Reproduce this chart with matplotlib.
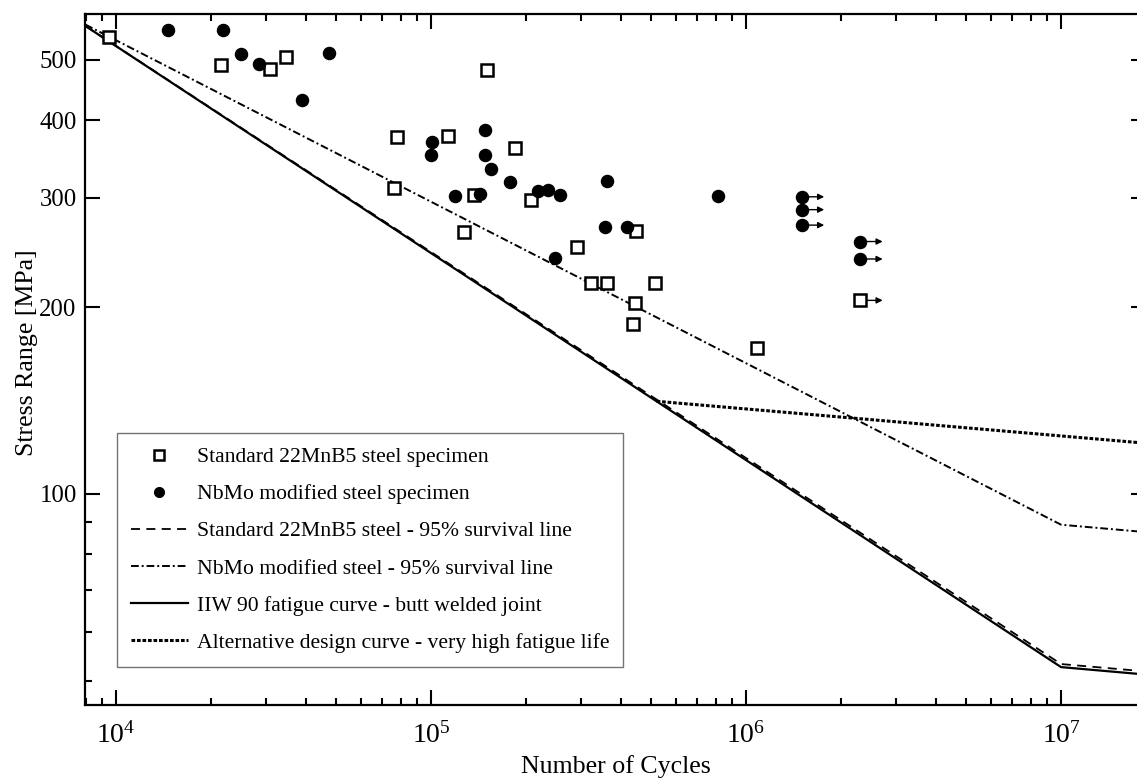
from matplotlib import pyplot as plt
from matplotlib.ticker import LogLocator, FixedLocator, NullFormatter, FixedFormatter
import numpy as np

plt.rcParams["font.family"] = ["Liberation Serif", "DejaVu Serif"]
plt.rcParams["mathtext.fontset"] = "custom"
plt.rcParams["mathtext.rm"] = "Liberation Serif"
plt.rcParams["mathtext.it"] = "Liberation Serif:italic"

# Test results - standard 22MnB5 steel (open squares)
std_cycles = [9500, 21500, 30800, 34600, 77800, 113000, 150000, 184000, 76100, 137000,
              208000, 127500, 291000, 446000, 322000, 362000, 512000, 443000, 437000, 1080000]
std_stress = [545, 491, 483, 505, 376, 377, 482, 361, 311, 303,
              298, 264, 250, 265, 219, 219, 219, 203, 188, 172]

# Test results - NbMo modified steel (filled circles)
nbmo_cycles = [14650, 21900, 24900, 28500, 47400, 38900, 100500, 100000, 148700, 148400,
               155400, 178000, 119400, 143100, 219000, 235700, 256700, 362000, 356000, 420000,
               247600, 815000]
nbmo_stress = [558, 558, 511, 493, 514, 431, 369, 352, 385, 352,
               334, 318, 302, 304, 308, 309, 303, 319, 269, 269,
               240, 302]

# Run-outs (no failure)
nbmo_runout_cycles = [1500000, 1500000, 1500000, 2300000, 2300000]
nbmo_runout_stress = [301, 287, 271, 255, 239]
std_runout_cycles = [2300000]
std_runout_stress = [205]

# Design / survival curves (vertices)
curve_cycles = [8000, 1e7, 2e7]
std95_stress = [567, 53.2, 51.6]
nbmo95_stress = [570, 89.2, 86.5]
iiw_stress = [567, 52.6, 51.0]
alt_cycles = [520000, 2e7]
alt_stress = [141, 120.3]

fig = plt.figure(figsize=(11.37, 7.78), dpi=100)
ax = fig.add_axes([0.0748, 0.0938, 0.9331, 0.8888])

ax.plot(curve_cycles, std95_stress, color="k", lw=1.3, dashes=(5, 3.5),
        label="Standard 22MnB5 steel - 95% survival line", zorder=2)
ax.plot(curve_cycles, nbmo95_stress, color="k", lw=1.4, dashes=(4, 1.5, 1, 1.5),
        label="NbMo modified steel - 95% survival line", zorder=2)
ax.plot(curve_cycles, iiw_stress, color="k", lw=1.6,
        label="IIW 90 fatigue curve - butt welded joint", zorder=2)
ax.plot(alt_cycles, alt_stress, color="k", lw=2.2, dashes=(1.2, 0.6),
        label="Alternative design curve - very high fatigue life", zorder=2)

# run-out arrows
for n, s in zip(nbmo_runout_cycles + std_runout_cycles, nbmo_runout_stress + std_runout_stress):
    ax.annotate("", xy=(n * 1.18, s), xytext=(n, s),
                arrowprops=dict(arrowstyle="-|>", color="k", lw=1.0, mutation_scale=9,
                                shrinkA=0, shrinkB=0), zorder=3)

ax.plot(std_cycles + std_runout_cycles, std_stress + std_runout_stress, ls="none", marker="s",
        ms=8.5, mfc="white", mec="k", mew=1.8, zorder=5)
ax.plot(nbmo_cycles + nbmo_runout_cycles, nbmo_stress + nbmo_runout_stress, ls="none", marker="o",
        ms=8.7, mfc="k", mec="k", zorder=5)

ax.set_xscale("log")
ax.set_yscale("log")
ax.set_xlim(7970, 1.86e7)
ax.set_ylim(45.7, 594)

ax.xaxis.set_major_locator(LogLocator(base=10, numticks=10))
ax.xaxis.set_minor_locator(LogLocator(base=10, subs=np.arange(2, 10), numticks=20))
ax.xaxis.set_minor_formatter(NullFormatter())

ax.yaxis.set_major_locator(FixedLocator([100, 200, 300, 400, 500]))
ax.yaxis.set_major_formatter(FixedFormatter(["100", "200", "300", "400", "500"]))
ax.yaxis.set_minor_locator(FixedLocator([50, 60, 70, 80, 90]))
ax.yaxis.set_minor_formatter(NullFormatter())

ax.tick_params(which="both", direction="in", top=True, right=True, width=1.5)
ax.tick_params(which="major", length=10.5)
ax.tick_params(which="minor", length=5)
ax.tick_params(axis="x", pad=12, labelsize=20)
ax.tick_params(axis="y", pad=6, labelsize=17.8)
for sp in ax.spines.values():
    sp.set_linewidth(1.6)

ax.set_xlabel("Number of Cycles", fontsize=18.6)
ax.set_ylabel("Stress Range [MPa]", fontsize=18.6)
ax.xaxis.set_label_coords(0.5, -0.073)
ax.yaxis.set_label_coords(-0.0445, 0.51)

# legend: markers first, then lines
h_sq = plt.Line2D([], [], ls="none", marker="s", ms=7, mfc="white", mec="k", mew=1.8)
h_ci = plt.Line2D([], [], ls="none", marker="o", ms=7, mfc="k", mec="k")
handles, labels = ax.get_legend_handles_labels()
leg = ax.legend([h_sq, h_ci] + handles,
                ["Standard 22MnB5 steel specimen", "NbMo modified steel specimen"] + labels,
                loc="upper left", bbox_to_anchor=(0.0302, 0.3933), fontsize=15.6,
                frameon=True, fancybox=False, edgecolor="0.45", framealpha=1,
                labelspacing=0.78, handlelength=2.6, handletextpad=0.42, borderpad=0.65,
                borderaxespad=0)
leg.get_frame().set_linewidth(1.0)

plt.savefig("out.png", dpi=100)
plt.close()
